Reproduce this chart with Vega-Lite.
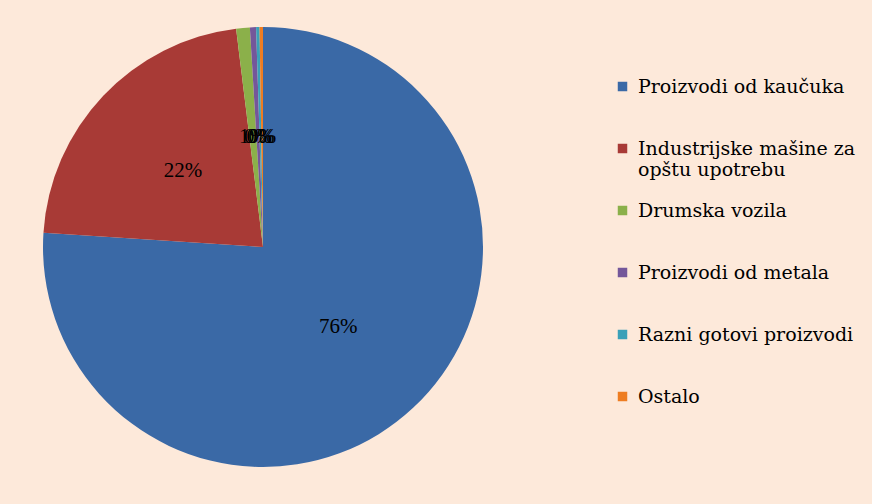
{
  "$schema": "https://vega.github.io/schema/vega-lite/v6.json",
  "autosize": "none",
  "width": 512,
  "height": 476,
  "padding": {"left": 7, "top": 9, "right": 353, "bottom": 19},
  "background": "#FDE9DA",
  "config": {
    "view": {"stroke": null},
    "font": "Liberation Serif"
  },
  "data": {"values": [
    {"category": "Proizvodi od kaučuka", "share": 0.76, "rank": 1},
    {"category": "Industrijske mašine za|opštu upotrebu", "share": 0.22, "rank": 2},
    {"category": "Drumska vozila", "share": 0.01, "rank": 3},
    {"category": "Proizvodi od metala", "share": 0.0045, "rank": 4},
    {"category": "Razni gotovi proizvodi", "share": 0.0025, "rank": 5},
    {"category": "Ostalo", "share": 0.0025, "rank": 6}
  ]},
  "encoding": {
    "theta": {"field": "share", "type": "quantitative", "stack": true},
    "order": {"field": "rank", "type": "quantitative"}
  },
  "layer": [
    {
      "mark": {"type": "arc", "outerRadius": 220},
      "encoding": {
        "color": {
          "field": "category", "type": "nominal",
          "sort": ["Proizvodi od kaučuka", "Industrijske mašine za|opštu upotrebu", "Drumska vozila", "Proizvodi od metala", "Razni gotovi proizvodi", "Ostalo"],
          "scale": {
            "domain": ["Proizvodi od kaučuka", "Industrijske mašine za|opštu upotrebu", "Drumska vozila", "Proizvodi od metala", "Razni gotovi proizvodi", "Ostalo"],
            "range": ["#3A69A6", "#A83A36", "#8BB04A", "#74579A", "#3AA0B8", "#EE7D22"]
          },
          "legend": {
            "title": null,
            "orient": "none",
            "legendX": 606,
            "legendY": 68,
            "gridAlign": "all",
            "symbolType": "square",
            "symbolSize": 90,
            "symbolStrokeWidth": 0,
            "labelFont": "DejaVu Serif",
            "labelFontSize": 19,
            "labelColor": "#000000",
            "labelLimit": 400,
            "labelOffset": 6,
            "rowPadding": 21,
            "encode": {"labels": {"update": {"lineBreak": {"value": "|"}}}}
          }
        }
      }
    },
    {
      "mark": {"type": "text", "radius": 110, "font": "Liberation Serif", "fontSize": 21},
      "encoding": {
        "text": {"field": "share", "type": "quantitative", "format": ".0%"},
        "color": {"value": "#000000"}
      }
    }
  ]
}
